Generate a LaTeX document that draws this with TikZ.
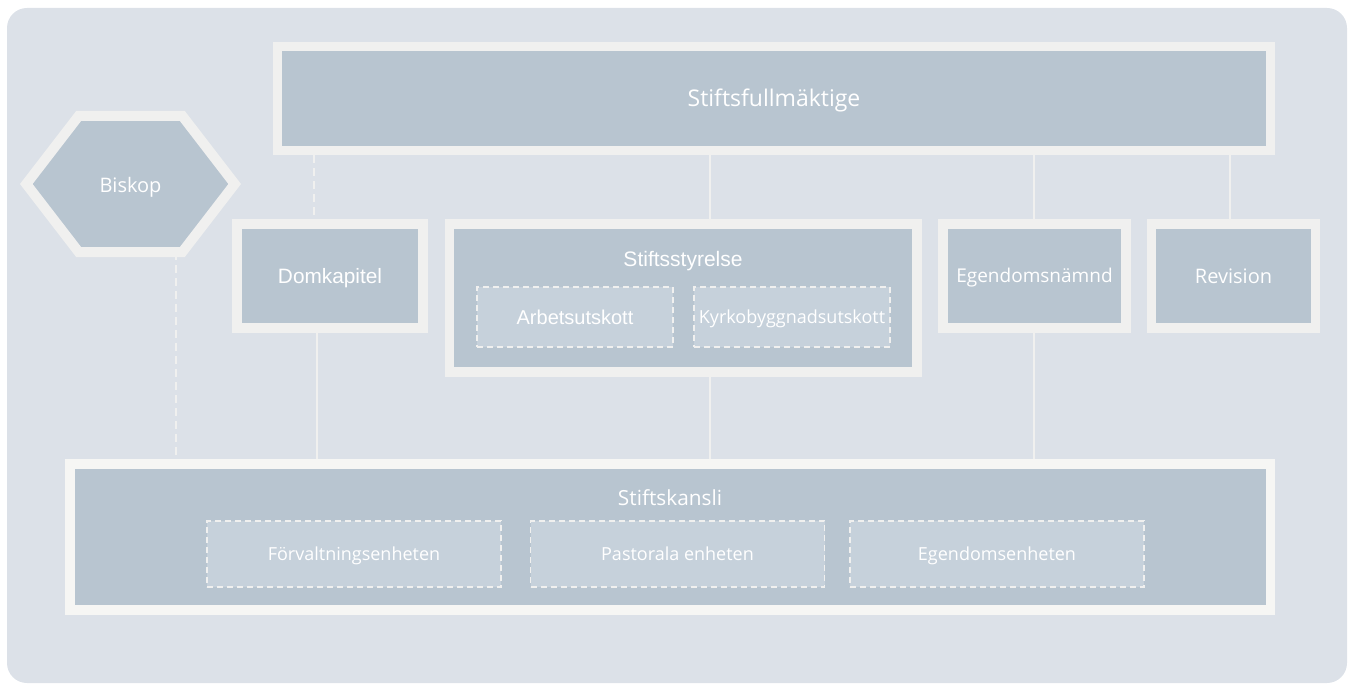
\documentclass[tikz,border=0pt]{standalone}
\usepackage{fontspec}
\setmainfont{Open Sans}
\newfontfamily\arialfont{Liberation Sans}
\usetikzlibrary{calc}

\definecolor{bgc}{HTML}{DCE1E8}
\definecolor{boxc}{HTML}{B8C5D0}
\definecolor{rimc}{HTML}{F0F0EF}
\definecolor{rimk}{HTML}{F6F6F4}
\definecolor{subc}{HTML}{C6D1DB}

\pgfdeclarelayer{background}
\pgfdeclarelayer{foreground}
\pgfsetlayers{background,main,foreground}

\begin{document}
\begin{tikzpicture} [
	   x=1pt, y=-1pt,
	   block/.style    = { rectangle, fill=boxc, draw=rimc, line width=9.5pt, text=white,
	                            font=\fontsize{20}{24}\selectfont, inner sep=0pt, text height=14.5pt, text depth=0pt },
	   unit/.style     = { rectangle, fill=subc, draw=rimc, line width=1.8pt, dash pattern=on 6pt off 4pt,
	                            text=white, font=\fontsize{18}{22}\selectfont, minimum height=60pt, minimum width=196pt,
	                            inner sep=0pt, text height=13.5pt, text depth=0pt },
	   title/.style    = { text=white, font=\fontsize{20}{24}\selectfont, inner sep=0pt, text height=14.5pt, text depth=0pt },
	   line/.style     = { draw=rimc, line width=2pt },
	   dline/.style    = { line, dash pattern=on 8pt off 5pt },
	 ]
	  \useasboundingbox (0,0) rectangle (1352,684);

	  % top and middle row
	  \node [block, minimum width=993pt, minimum height=104pt, font=\fontsize{23}{27}\selectfont, text height=16.5pt] (sfm) at (774,98.5) {Stiftsfullmäktige};
	  \node [block, minimum width=186pt, minimum height=104pt, font=\arialfont\fontsize{20.8}{24}\selectfont, text height=15pt] (dk) at (330,276) {Domkapitel};
	  \node [block, minimum width=467.5pt, minimum height=148pt] (ss) at (683.25,298) {};
	  \node [block, minimum width=183pt, minimum height=104pt, font=\fontsize{19}{23}\selectfont, text height=13.7pt] (en) at (1034.5,276) {Egendomsnämnd};
	  \node [block, minimum width=164pt, minimum height=104pt] (rev) at (1233.5,276) {Revision};

	  \node [title, font=\arialfont\fontsize{21}{24}\selectfont, text height=15pt] (sstitle) at (683,259) {Stiftsstyrelse};
	  \node [unit, font=\arialfont\fontsize{20}{22}\selectfont, text height=14.3pt] (au) at (575,317) {Arbetsutskott};
	  \node [unit] (kbu) at (792,317) {Kyrkobyggnadsutskott};

	  % bishop
	  \node [minimum width=208pt, minimum height=136pt] (bk) at (130.5,184) {};
	  \path[fill=boxc, draw=rimc, line width=10pt] (bk.west) -- ([xshift=52.5pt]bk.north west) -- ([xshift=-52.5pt]bk.north east)
	       -- (bk.east) -- ([xshift=-52.5pt]bk.south east) -- ([xshift=52.5pt]bk.south west) -- cycle;
	  \node [title] (bktext) at (130.5,185.5) {Biskop};

	  % office
	  \node [block, draw=rimk, minimum width=1200.5pt, minimum height=146pt] (sk) at (670.25,537) {};
	  \node [title, font=\fontsize{20.8}{24}\selectfont, text height=15pt] (sktitle) at (670,498) {Stiftskansli};
	  \node [unit, minimum width=294pt, minimum height=66pt] (fe) at (354,554) {Förvaltningsenheten};
	  \node [unit, minimum width=294pt, minimum height=66pt] (pe) at (677.5,554) {Pastorala enheten};
	  \node [unit, minimum width=294pt, minimum height=66pt] (ee) at (997,554) {Egendomsenheten};

	  \coordinate (c1) at (176,0);
	  \coordinate (c2) at (314,0);
	  \coordinate (c3) at (317,0);
	  \coordinate (c4) at (710,0);
	  \coordinate (c5) at (1034,0);
	  \coordinate (c6) at (1230,0);

	 \begin{pgfonlayer}{background}
	  \path[fill=bgc, rounded corners=20pt] (7,8) rectangle (1347,683);
	%
	  \path[dline] (sfm.south -| c2) -- (dk.north -| c2);
	  \path[line] (sfm.south -| c4) -- (ss.north -| c4);
	  \path[line] (sfm.south -| c5) -- (en.north -| c5);
	  \path[line] (sfm.south -| c6) -- (rev.north -| c6);
	%
	  \path[dline] (bk.south -| c1) -- (sk.north -| c1);
	  \path[line] (dk.south -| c3) -- (sk.north -| c3);
	  \path[line] (ss.south -| c4) -- (sk.north -| c4);
	  \path[line] (en.south -| c5) -- (sk.north -| c5);
	 \end{pgfonlayer}
\end{tikzpicture}
\end{document}
